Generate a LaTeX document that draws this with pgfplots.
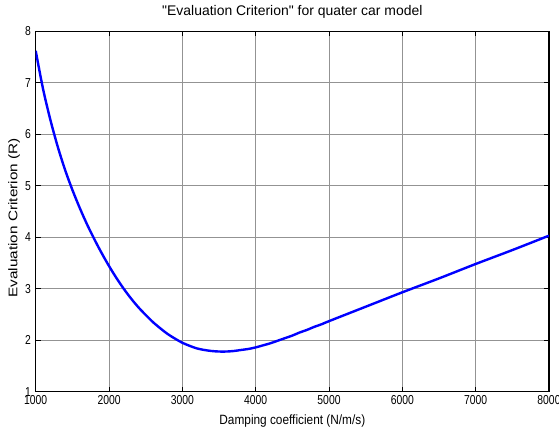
\documentclass[border=0pt]{standalone}
\usepackage{fontspec}
\setmainfont{Liberation Sans}
\newfontfamily\tickfont{Liberation Sans}[FakeStretch=0.8]
\newfontfamily\xlabfont{Liberation Sans}[FakeStretch=0.88]
\newfontfamily\titfont{Liberation Sans}[FakeStretch=1.0]
\newfontfamily\ylabfont{Liberation Sans}[FakeStretch=1.22]
\usepackage{pgfplots}
\pgfplotsset{compat=1.18}
\begin{document}
\begin{tikzpicture}
\useasboundingbox (-35.7bp,-38.3bp) rectangle (523.3bp,391.7bp);
\begin{axis}[
  scale only axis,
  width=513.3bp, height=360.5bp,
  xmin=1000, xmax=8000, ymin=1, ymax=8,
  xtick={1000,2000,...,8000},
  ytick={1,2,...,8},
  grid=major,
  grid style={gray!85, line width=0.6bp},
  axis line style={black, line width=1.4bp},
  tick align=inside,
  tick pos=both,
  major tick length=5bp,
  tick style={black, line width=0.6bp},
  scaled x ticks=false,
  /pgf/number format/assume math mode=true,
  /pgf/number format/set thousands separator={},
  ticklabel style={font=\tickfont\fontsize{13}{14}\selectfont},
  xticklabel style={anchor=base, yshift=-12.8bp},
  yticklabel style={anchor=east, inner sep=0pt, xshift=-4.5bp},
  xlabel={Damping coefficient (N/m/s)},
  ylabel={Evaluation Criterion (R)},
  xlabel style={at={(0.5,0)}, anchor=base, yshift=-33.3bp, font=\xlabfont\fontsize{13.5}{15}\selectfont},
  ylabel style={at={(0,0.5)}, anchor=center, yshift=21.5bp, xshift=-6.5bp, font=\ylabfont\fontsize{12.6}{14}\selectfont},
  title={"Evaluation Criterion" for quater car model},
  title style={at={(0.5,1)}, anchor=base, yshift=10.2bp, font=\titfont\fontsize{14}{16}\selectfont},
]
\addplot[blue, line width=2.4bp, smooth] coordinates {
(1000,7.62) (1100,6.88) (1200,6.28) (1300,5.76) (1400,5.31) (1500,4.92)
(1600,4.57) (1700,4.25) (1800,3.96) (1900,3.69) (2000,3.44) (2100,3.21)
(2200,3.00) (2300,2.81) (2400,2.64) (2500,2.49) (2600,2.35) (2700,2.23)
(2800,2.12) (2900,2.03) (3000,1.95) (3100,1.89) (3200,1.84) (3300,1.81)
(3400,1.79) (3500,1.78) (3600,1.78) (3700,1.79) (3800,1.81) (3900,1.83)
(4000,1.86) (4100,1.90) (4200,1.94) (4300,1.99) (4400,2.04) (4500,2.09)
(4600,2.15) (4700,2.20) (4800,2.26) (4900,2.31) (5000,2.37) (5500,2.65)
(6000,2.93) (6500,3.20) (7000,3.48) (7500,3.75) (8000,4.03)
};
\end{axis}
\end{tikzpicture}
\end{document}
